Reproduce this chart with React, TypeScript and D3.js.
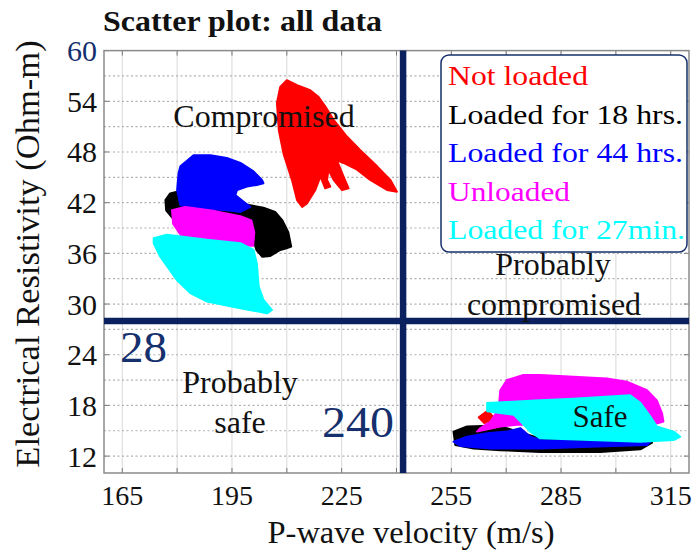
import React from 'react';
import * as d3 from 'd3';

type P = [number, number];

const W = 694;
const H = 552;

const xDomain: [number, number] = [160, 320];
const yDomain: [number, number] = [10, 60];
const xTickValues = [165, 195, 225, 255, 285, 315];
const xGridValues = [165, 180, 195, 210, 225, 240, 255, 270, 285, 300, 315];
const yTickValues = [12, 18, 24, 30, 36, 42, 48, 54, 60];
const yDottedValues = [12, 15, 18, 21, 24, 27, 30, 33, 36, 39, 42, 45, 48, 51, 54, 57];

const resistivityThreshold = 28;
const velocityThreshold = 241.8;
const resistivityLabel = '28';
const velocityLabel = '240';

const seriesNames = ['Not loaded', 'Loaded for 18 hrs.', 'Loaded for 44 hrs.', 'Unloaded', 'Loaded for 27min.'];
const seriesColors = ['#ff0000', '#000000', '#0000ff', '#ff00ff', '#00ffff'];

// Point clouds, traced as outlines (velocity m/s, resistivity Ohm-m)
const notLoadedA: P[] = [
  [210.0, 56.5], [212.8, 55.9], [216.4, 55.3], [218.7, 54.5], [220.5, 53.4], [222.8, 51.8], [226.5, 49.8],
  [230.1, 48.2], [234.7, 46.3], [238.3, 44.7], [240.1, 43.3], [237.4, 43.5], [232.8, 44.7], [229.2, 45.9],
  [225.5, 46.7], [223.7, 47.0], [225.5, 45.1], [226.9, 43.7], [225.1, 43.5], [222.8, 44.7], [221.4, 45.9],
  [221.0, 44.7], [221.9, 43.9], [220.5, 43.7], [219.2, 45.1], [217.8, 43.5], [215.5, 41.9], [214.2, 41.5],
  [212.8, 42.3], [211.4, 44.7], [209.1, 47.8], [207.8, 50.6], [207.3, 53.8], [208.2, 55.7],
];
const notLoadedB: P[] = [[262.5, 16.6], [265.0, 17.4], [266.8, 16.4], [264.0, 15.9]];

const loaded18A: P[] = [
  [180.0, 43.3], [186.3, 42.8], [195.4, 42.0], [200.0, 41.7], [203.6, 41.4], [206.8, 40.9], [208.8, 39.9],
  [210.4, 38.5], [211.2, 36.8], [209.9, 36.6], [208.2, 36.4], [205.5, 35.7], [203.3, 35.6], [201.7, 36.4],
  [200.8, 37.6], [198.6, 38.8], [191.8, 39.0], [183.6, 39.4], [178.7, 40.2], [177.0, 41.1], [176.8, 42.3],
  [178.1, 43.1],
];
const loaded18B: P[] = [
  [255.6, 14.9], [259.3, 15.5], [265.7, 15.6], [270.2, 15.3], [279.3, 14.1], [295.7, 14.1], [309.4, 14.3],
  [309.9, 13.6], [306.7, 12.8], [295.7, 12.5], [279.3, 12.5], [268.4, 12.7], [261.1, 12.9], [256.1, 13.3],
];

const loaded44A: P[] = [
  [180.9, 46.3], [184.5, 47.6], [189.1, 47.6], [193.6, 47.3], [197.3, 46.7], [200.9, 45.7], [203.2, 44.7],
  [203.6, 44.3], [201.8, 44.1], [199.1, 43.9], [196.4, 43.5], [195.9, 42.9], [198.2, 42.1], [200.0, 41.5],
  [197.3, 40.9], [193.6, 41.1], [186.3, 41.3], [180.9, 41.7], [180.0, 43.5], [180.4, 45.5],
];
const loaded44B: P[] = [
  [255.6, 13.7], [259.3, 14.3], [264.8, 14.7], [270.2, 14.9], [273.9, 15.3], [276.6, 14.3], [279.3, 13.9],
  [293.0, 13.7], [309.4, 13.7], [308.5, 13.3], [293.0, 13.1], [279.3, 12.9], [265.7, 12.9], [257.5, 13.2],
];

const unloadedA: P[] = [
  [178.6, 41.1], [182.2, 41.5], [190.4, 41.0], [197.3, 40.4], [200.3, 39.9], [201.1, 38.5], [200.8, 36.9],
  [194.5, 37.0], [186.3, 37.3], [181.4, 37.9], [178.9, 39.5],
];
const unloadedB: P[] = [
  [268.4, 19.8], [270.2, 21.0], [274.7, 21.6], [279.3, 21.6], [288.4, 21.4], [297.5, 21.2], [303.0, 20.8],
  [308.5, 19.8], [311.2, 18.6], [312.6, 17.1], [313.0, 16.1], [311.6, 15.9], [273.0, 15.7], [268.4, 15.5],
  [262.0, 14.9], [262.9, 15.3], [265.7, 16.1], [267.9, 17.5],
];

const loaded27A: P[] = [
  [173.6, 37.8], [177.2, 38.2], [188.2, 37.6], [197.3, 37.2], [200.9, 36.4], [201.8, 34.8], [202.3, 32.1],
  [203.6, 30.5], [205.9, 29.3], [204.6, 28.9], [197.3, 29.5], [188.2, 30.3], [183.6, 31.3], [180.0, 32.8],
  [175.4, 35.6], [173.6, 37.2],
];
const loaded27B: P[] = [
  [264.8, 18.3], [270.2, 18.4], [279.3, 18.6], [288.4, 18.8], [303.9, 19.2], [306.7, 18.3], [309.4, 16.7],
  [311.2, 15.5], [315.8, 14.9], [317.6, 14.3], [315.8, 13.9], [306.7, 13.7], [293.0, 13.9], [279.3, 14.1],
  [276.6, 14.9], [273.9, 16.1], [272.1, 16.9], [268.4, 17.1], [264.8, 17.3],
];

const seriesClouds: P[][][] = [
  [notLoadedA, notLoadedB],
  [loaded18A, loaded18B],
  [loaded44A, loaded44B],
  [unloadedA, unloadedB],
  [loaded27A, loaded27B],
];

const FONT = '"Liberation Serif", "Times New Roman", serif';
const NAVY = '#0b215f';
const NAVY_TEXT = '#16306e';

export default function App() {
  const left = 104, right = 689, top = 50.6, bottom = 473;
  const x = d3.scaleLinear().domain(xDomain).range([left, right]);
  const y = d3.scaleLinear().domain(yDomain).range([bottom, top]);
  const line = d3.line<P>().x((d) => x(d[0])).y((d) => y(d[1])).curve(d3.curveLinearClosed);

  const legendX = 448;
  const legendY0 = 85;
  const legendStep = 38.5;
  const legendLengths = [140, 235, 235, 122, 237];

  return (
    <svg width={W} height={H} style={{ position: 'absolute', left: 0, top: 0, background: '#fff' }} fontFamily={FONT}>
      <rect x={0} y={0} width={W} height={H} fill="#fff" />
      {/* title */}
      <text x={103} y={31} fontSize={29} fontWeight="bold" fill="#111" textLength={279} lengthAdjust="spacingAndGlyphs">
        Scatter plot: all data
      </text>

      {/* grid */}
      <g>
        {xGridValues.map((v) => (
          <line key={'xg' + v} x1={x(v)} x2={x(v)} y1={top} y2={bottom} stroke="#d8d8d8" strokeWidth={1} />
        ))}
        {yDottedValues.map((v) => (
          <line key={'yg' + v} x1={left} x2={right} y1={y(v)} y2={y(v)} stroke="#b0b0b0" strokeWidth={1.2} strokeDasharray="2,2.5" />
        ))}
      </g>

      {/* ticks */}
      <g stroke="#777" strokeWidth={1}>
        {xGridValues.map((v) => (
          <g key={'xt' + v}>
            <line x1={x(v)} x2={x(v)} y1={bottom} y2={bottom - 5} />
            <line x1={x(v)} x2={x(v)} y1={top} y2={top + 5} />
          </g>
        ))}
        {yTickValues.map((v) => (
          <g key={'yt' + v}>
            <line x1={left} x2={left + 5} y1={y(v)} y2={y(v)} />
            <line x1={right} x2={right - 5} y1={y(v)} y2={y(v)} />
          </g>
        ))}
      </g>

      {/* clouds */}
      <g>
        {seriesClouds.map((polys, i) =>
          polys.map((poly, j) => (
            <path
              key={'c' + i + '-' + j}
              d={line(poly) || ''}
              fill={seriesColors[i]}
              stroke={seriesColors[i]}
              strokeWidth={2}
              strokeLinejoin="round"
            />
          ))
        )}
      </g>

      {/* frame */}
      <rect x={left} y={top} width={right - left} height={bottom - top} fill="none" stroke="#8a8a8a" strokeWidth={1.5} />

      {/* thresholds */}
      <line x1={left} x2={right} y1={y(resistivityThreshold)} y2={y(resistivityThreshold)} stroke={NAVY} strokeWidth={6.5} />
      <line x1={x(velocityThreshold)} x2={x(velocityThreshold)} y1={top} y2={bottom} stroke={NAVY} strokeWidth={6.5} />

      {/* tick labels */}
      {xTickValues.map((v) => (
        <text key={'xl' + v} x={x(v)} y={505} fontSize={28} textAnchor="middle" fill="#111">
          {v}
        </text>
      ))}
      {yTickValues.map((v) => (
        <text key={'yl' + v} x={97} y={y(v) + 10.5} fontSize={30} textAnchor="end" fill={v === 60 ? NAVY_TEXT : '#111'}>
          {v}
        </text>
      ))}

      {/* axis labels */}
      <text x={411} y={543} fontSize={32.5} textAnchor="middle" fill="#111">P-wave velocity (m/s)</text>
      <text transform="translate(39,254) rotate(-90)" fontSize={34.5} textAnchor="middle" fill="#111">
        Electrical Resistivity (Ohm-m)
      </text>

      {/* quadrant annotations */}
      <g fontSize={32} fill="#111" textAnchor="middle">
        <text x={264} y={127}>Compromised</text>
        <text x={553} y={275}>Probably</text>
        <text x={554} y={315}>compromised</text>
        <text x={240} y={393}>Probably</text>
        <text x={240} y={433}>safe</text>
        <text x={600} y={427} fontSize={31}>Safe</text>
      </g>
      <text x={120} y={362} fontSize={44} fill={NAVY_TEXT} textLength={47} lengthAdjust="spacingAndGlyphs">{resistivityLabel}</text>
      <text x={322} y={437} fontSize={44} fill={NAVY_TEXT} textLength={72} lengthAdjust="spacingAndGlyphs">{velocityLabel}</text>

      {/* legend */}
      <rect x={441} y={55} width={246} height={197} rx={8} ry={8} fill="#fff" stroke={NAVY_TEXT} strokeWidth={1.5} />
      {seriesNames.map((name, i) => (
        <text
          key={'lg' + i}
          x={legendX}
          y={legendY0 + i * legendStep}
          fontSize={27}
          fill={seriesColors[i]}
          textLength={legendLengths[i]}
          lengthAdjust="spacingAndGlyphs"
        >
          {name}
        </text>
      ))}
    </svg>
  );
}
